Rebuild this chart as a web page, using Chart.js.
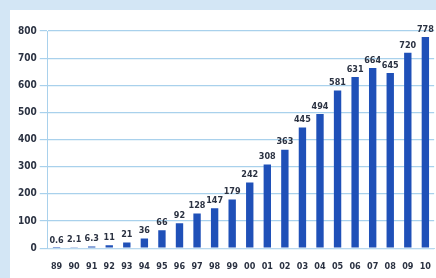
<!DOCTYPE html>
<html lang="en">
<head>
  <meta charset="UTF-8" />
  <title>Bar chart 89-10</title>
  <script src="https://cdn.jsdelivr.net/npm/chart.js"></script>
  <style>
    body {
      margin: 0;
      background: #d3e6f5;
      width: 436px;
      height: 278px;
      overflow: hidden;
    }
    .panel {
      position: absolute;
      left: 10px;
      top: 10px;
      width: 426px;
      height: 268px;
      background: #ffffff;
      overflow: hidden;
    }
  </style>
</head>
<body>
  <div class="panel">
    <canvas id="chart" width="426" height="282"></canvas>
  </div>

  <script>
    const years = ['89','90','91','92','93','94','95','96','97','98','99','00','01','02','03','04','05','06','07','08','09','10'];
    const values = [0.6, 2.1, 6.3, 11, 21, 36, 66, 92, 128, 147, 179, 242, 308, 363, 445, 494, 581, 631, 664, 645, 720, 778];
    const valueLabels = ['0.6','2.1','6.3','11','21','36','66','92','128','147','179','242','308','363','445','494','581','631','664','645','720','778'];
    const yTicks = [0, 100, 200, 300, 400, 500, 600, 700, 800];

    const font = { family: '"DejaVu Sans Condensed", "DejaVu Sans", sans-serif', size: 9, weight: 'bold' };

    // labels over each bar
    const barLabels = {
      id: 'barLabels',
      afterDatasetsDraw(chart) {
        const ctx = chart.ctx;
        const meta = chart.getDatasetMeta(0);
        ctx.save();
        ctx.font = 'bold 9px "DejaVu Sans Condensed", "DejaVu Sans", sans-serif';
        ctx.fillStyle = '#2b3242';
        ctx.textAlign = 'center';
        ctx.textBaseline = 'bottom';
        meta.data.forEach((bar, i) => {
          ctx.fillText(valueLabels[i], bar.x, bar.y - 3);
        });
        ctx.restore();
      }
    };

    new Chart(document.getElementById('chart'), {
      type: 'bar',
      data: {
        labels: years,
        datasets: [{
          data: values,
          backgroundColor: '#1f50b8',
          borderWidth: 0,
          barPercentage: 0.42,
          categoryPercentage: 1
        }]
      },
      options: {
        responsive: false,
        animation: false,
        layout: { padding: { top: 21, right: -4, left: 5, bottom: 15 } },
        plugins: { legend: { display: false }, tooltip: { enabled: false } },
        scales: {
          x: {
            grid: { display: false },
            border: { color: '#b9d8ee' },
            ticks: { color: '#2b3242', font: font, padding: 5, maxRotation: 0, autoSkip: false }
          },
          y: {
            min: 0,
            max: 800,
            afterBuildTicks(axis) { axis.ticks = yTicks.map(v => ({ value: v })); },
            grid: { color: '#a9d1ec', lineWidth: 1.2 },
            border: { color: '#a9d1ec' },
            ticks: { color: '#2b3242', font: { ...font, size: 10 }, padding: 3 }
          }
        }
      },
      plugins: [barLabels]
    });
  </script>
</body>
</html>
